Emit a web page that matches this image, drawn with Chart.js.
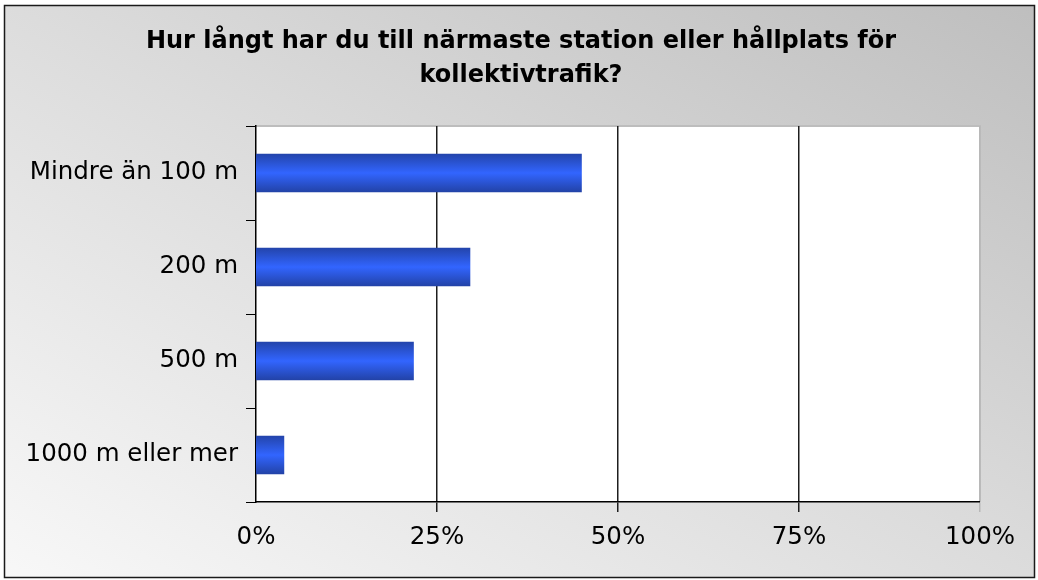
<!DOCTYPE html>
<html>
<head>
<meta charset="utf-8">
<script src="https://cdn.jsdelivr.net/npm/chart.js@4/dist/chart.umd.min.js"></script>
<style>
  html, body { margin: 0; padding: 0; background: #ffffff; }
  #wrap { width: 1038px; height: 580px; position: relative; }
</style>
</head>
<body>
<div id="wrap"><canvas id="distChart"></canvas></div>
<script>
const titleLines = ["Hur långt har du till närmaste station eller hållplats för", "kollektivtrafik?"];
const categories = ["Mindre än 100 m", "200 m", "500 m", "1000 m eller mer"];
const shares = [45.0, 29.6, 21.8, 3.9];
const xTicks = [0, 25, 50, 75, 100];

// chart background: diagonal grey gradient + thin dark frame, white plot area
const backdrop = {
  id: "backdrop",
  beforeDraw(chart) {
    const { ctx, chartArea: a } = chart;
    ctx.save();
    const g = ctx.createLinearGradient(0, 580, 494, -304);
    g.addColorStop(0, "#f8f8f8");
    g.addColorStop(0.5, "#dcdcdc");
    g.addColorStop(1, "#bebebe");
    ctx.fillStyle = g;
    ctx.fillRect(4, 5, 1031, 573);
    ctx.lineWidth = 1.5;
    ctx.strokeStyle = "#1a1a1a";
    ctx.strokeRect(4.5, 5.5, 1030, 572);
    ctx.fillStyle = "#ffffff";
    ctx.fillRect(a.left, a.top, a.right - a.left, a.bottom - a.top);
    ctx.lineWidth = 2;
    ctx.strokeStyle = "#bdbdbd";
    ctx.beginPath();
    ctx.moveTo(a.left, a.top);
    ctx.lineTo(a.right, a.top);
    ctx.lineTo(a.right, a.bottom);
    ctx.stroke();
    ctx.restore();
  },
  // title centred on the whole canvas (the built-in title would centre on the padded box)
  afterDraw(chart) {
    const ctx = chart.ctx;
    ctx.save();
    ctx.fillStyle = "#000000";
    ctx.font = "bold 24px 'DejaVu Sans'";
    ctx.textAlign = "center";
    ctx.textBaseline = "alphabetic";
    titleLines.forEach((t, i) => ctx.fillText(t, chart.width / 2 + 2, 48 + i * 34));
    ctx.restore();
  }
};

function barGradient(c) {
  const chart = c.chart;
  const y = chart.scales.y;
  if (!y || y.top === undefined) return "#3063ff";
  const band = (y.bottom - y.top) / categories.length;
  const mid = y.getPixelForValue(c.dataIndex);
  const half = band * 0.41 / 2;
  const g = chart.ctx.createLinearGradient(0, mid - half, 0, mid + half);
  g.addColorStop(0, "#2344aa");
  g.addColorStop(0.5, "#3265ff");
  g.addColorStop(1, "#2242a6");
  return g;
}

new Chart(document.getElementById("distChart"), {
  type: "bar",
  data: {
    labels: categories,
    datasets: [{
      data: shares,
      backgroundColor: barGradient,
      borderWidth: 0,
      barPercentage: 0.41,
      categoryPercentage: 1
    }]
  },
  plugins: [backdrop],
  options: {
    indexAxis: "y",
    responsive: true,
    maintainAspectRatio: false,
    animation: false,
    layout: { padding: { left: 0, right: 58, top: 126, bottom: 0 } },
    scales: {
      x: {
        min: 0,
        max: 100,
        afterBuildTicks: s => { s.ticks = xTicks.map(v => ({ value: v })); },
        afterFit: s => { s.height = 78; },
        border: { display: true, color: "#000000", width: 1.5 },
        grid: {
          color: c => (c.tick && c.tick.value === 100 ? "#b8b8b8" : "#1e1e1e"),
          lineWidth: c => (c.tick && c.tick.value === 0 ? 0 : 1.5),
          tickLength: 10,
          drawOnChartArea: true
        },
        ticks: {
          color: "#000000",
          font: { family: "DejaVu Sans", size: 24.5 },
          padding: 11,
          maxRotation: 0,
          callback: v => v + "%"
        }
      },
      y: {
        offset: true,
        afterFit: s => { s.width = 256; },
        border: { display: true, color: "#000000", width: 1.5 },
        grid: {
          offset: true,
          drawOnChartArea: false,
          color: "#000000",
          tickLength: 10
        },
        ticks: {
          color: "#000000",
          font: { family: "DejaVu Sans", size: 24.5 },
          padding: 8
        }
      }
    },
    plugins: {
      legend: { display: false },
      tooltip: { enabled: false },
      title: { display: false }
    }
  }
});
</script>
</body>
</html>
